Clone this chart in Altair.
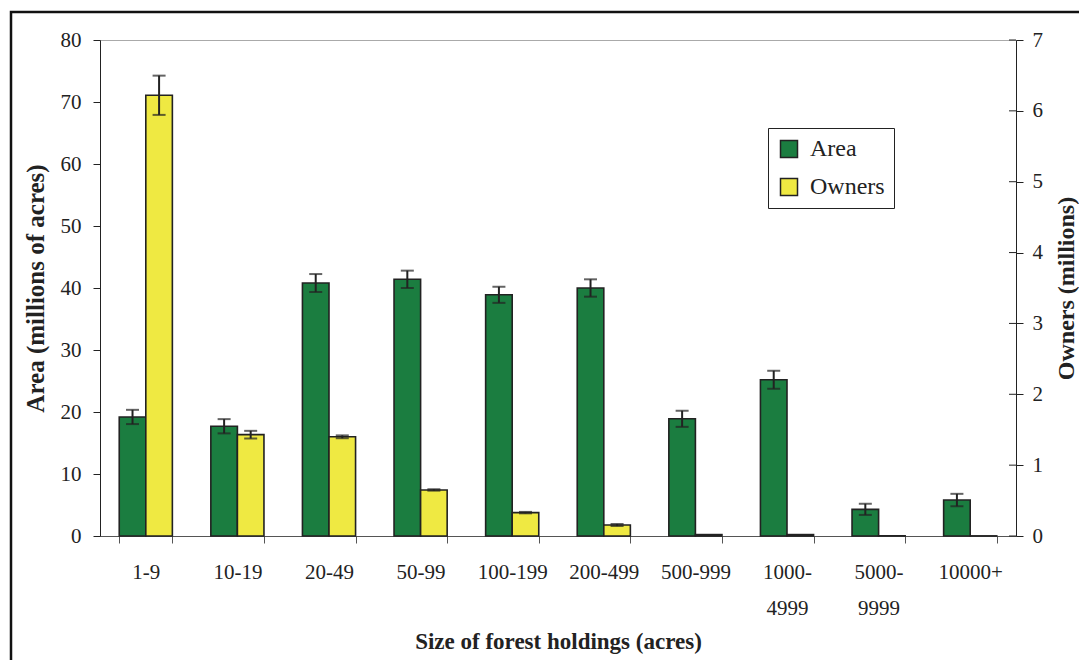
import altair as alt
import pandas as pd

categories = ["1-9", "10-19", "20-49", "50-99", "100-199", "200-499",
              "500-999", "1000-\n4999", "5000-\n9999", "10000+"]
area = [19.2, 17.7, 40.8, 41.4, 38.9, 40.0, 18.9, 25.2, 4.3, 5.8]
area_err = [1.15, 1.15, 1.45, 1.4, 1.3, 1.4, 1.3, 1.45, 0.9, 1.0]
owners = [6.22, 1.43, 1.40, 0.65, 0.33, 0.155, 0.02, 0.02, 0.003, 0.002]
owners_err = [0.277, 0.054, 0.02, 0.01, 0.01, 0.015, 0.0, 0.0, 0.0, 0.0]
owners_ticks = [0, 1, 2, 3, 4, 5, 6, 7]
area_ticks = [0, 10, 20, 30, 40, 50, 60, 70, 80]
series_names = ["Area", "Owners"]
series_colors = ["#1b7d40", "#efe942"]

rows = []
for c, v, e in zip(categories, area, area_err):
    rows.append({"cat": c, "series": "Area", "value": v, "lo": v - e, "hi": v + e, "err": e})
for c, v, e in zip(categories, owners, owners_err):
    rows.append({"cat": c, "series": "Owners", "value": v, "lo": v - e, "hi": v + e, "err": e})
df = pd.DataFrame(rows)

FONT = "Liberation Serif"

x_enc = alt.X(
    "cat:N", sort=categories,
    scale=alt.Scale(paddingInner=0.42, paddingOuter=0.21),
    axis=alt.Axis(
        title="Size of forest holdings (acres)", labelAngle=0,
        labelExpr="split(datum.label, '\\n')", labelLineHeight=36,
        labelFont=FONT, labelFontSize=21, labelPadding=18, labelColor="#222",
        tickBand="extent", tickSize=7, tickColor="#555", domainColor="#555",
        titleFont=FONT, titleFontSize=23, titleFontWeight="bold",
        titlePadding=12, titleColor="#222",
    ),
)
xoff_enc = alt.XOffset("series:N", scale=alt.Scale(domain=series_names, paddingInner=0, paddingOuter=0))
color_enc = alt.Color(
    "series:N",
    scale=alt.Scale(domain=series_names, range=series_colors),
    legend=alt.Legend(
        title=None, orient="none", legendX=668, legendY=88,
        padding=9, strokeColor="#222", fillColor="white",
        labelFontSize=24, labelFont=FONT, labelColor="#222", labelOffset=9,
        symbolType="square", symbolSize=289, symbolStrokeColor="#222",
        symbolStrokeWidth=1.5, rowPadding=14,
    ),
)


def series_layer(name, domain, tick_values, orient, title, title_size, title_baseline, label_pad):
    axis = alt.Axis(orient=orient, title=title, values=tick_values, grid=False,
                    labelFont=FONT, labelFontSize=21, labelColor="#222", labelPadding=label_pad,
                    tickSize=7, tickColor="#222", domainColor="#222",
                    titleFont=FONT, titleFontSize=title_size, titleFontWeight="bold",
                    titleColor="#222", titlePadding=12, titleAngle=270,
                    titleBaseline=title_baseline)
    scale = alt.Scale(domain=domain, nice=False)
    base = alt.Chart(df).transform_filter(alt.datum.series == name)
    bars = base.mark_bar(stroke="#222", strokeWidth=1.6).encode(
        x=x_enc, xOffset=xoff_enc,
        y=alt.Y("value:Q", scale=scale, axis=axis),
        color=color_enc,
    )
    eb = base.transform_filter(alt.datum.err > 0)
    rule = eb.mark_rule(color="#222", strokeWidth=2).encode(
        x=x_enc, xOffset=xoff_enc,
        y=alt.Y("lo:Q", scale=scale, axis=axis),
        y2="hi:Q",
    )
    cap_lo = eb.mark_tick(color="#222", size=13, thickness=2, orient="horizontal").encode(
        x=x_enc, xOffset=xoff_enc,
        y=alt.Y("lo:Q", scale=scale, axis=axis),
    )
    cap_hi = eb.mark_tick(color="#222", size=13, thickness=2, orient="horizontal").encode(
        x=x_enc, xOffset=xoff_enc,
        y=alt.Y("hi:Q", scale=scale, axis=axis),
    )
    layers = [bars, rule, cap_lo, cap_hi]
    if orient == "right":
        # inner half of the right axis ticks (they cross the axis line)
        inner = alt.Chart(pd.DataFrame({"t": tick_values})).mark_rule(
            color="#222", strokeWidth=1
        ).encode(
            x=alt.value(909), x2=alt.value(916),
            y=alt.Y("t:Q", scale=scale, axis=axis),
        )
        layers.append(inner)
    return alt.layer(*layers)


area_layer = series_layer("Area", [0, 80], area_ticks, "left",
                          "Area (millions of acres)", 25, "bottom", 12)
owners_layer = series_layer("Owners", [0, 7], owners_ticks, "right",
                            "Owners (millions)", 24, "top", 9)

frame = alt.Chart(alt.Data(values=[{"a": 1}])).mark_rect(
    fill=None, stroke="#111", strokeWidth=2.5
).encode(
    x=alt.value(-89), x2=alt.value(1100), y=alt.value(-28), y2=alt.value(700)
)

chart = alt.layer(area_layer, owners_layer, frame).resolve_scale(
    y="independent"
).resolve_axis(
    y="independent"
).properties(
    width=916, height=496,
    autosize=alt.AutoSizeParams(type="none"),
    padding={"left": 92, "top": 32, "right": 63, "bottom": 124},
).configure(
    font=FONT,
).configure_view(
    stroke="#aaa", strokeWidth=1,
)

chart.save("out.html", embed_options={"renderer": "svg", "actions": False})
